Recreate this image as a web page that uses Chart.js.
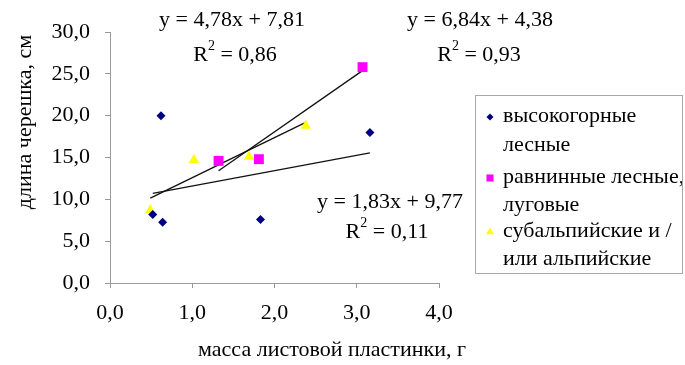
<!DOCTYPE html>
<html>
<head>
<meta charset="utf-8">
<script src="https://cdn.jsdelivr.net/npm/chart.js@4.4.1/dist/chart.umd.min.js"></script>
<style>
  html, body { margin: 0; padding: 0; background: #fff; }
</style>
</head>
<body>
<canvas id="chart" width="685" height="365"></canvas>
<script>
// series names (legend, each split into two lines like the original)
const seriesNames = [
  ['высокогорные', 'лесные'],
  ['равнинные лесные,', 'луговые'],
  ['субальпийские и /', 'или альпийские']
];

// высокогорные лесные
const highX = [0.62, 0.52, 0.64, 1.83, 3.16];
const highY = [20.0, 8.2, 7.25, 7.6, 18.0];
// равнинные лесные, луговые
const plainX = [1.32, 1.81, 3.07];
const plainY = [14.6, 14.8, 25.8];
// субальпийские и / или альпийские
const alpX = [0.49, 1.02, 1.69, 2.38];
const alpY = [8.7, 14.7, 15.1, 18.8];

// trend line ends
const highTrend = [[0.52, 10.72], [3.16, 15.55]];
const plainTrend = [[1.32, 13.41], [3.07, 25.38]];
const alpTrend = [[0.49, 10.15], [2.38, 19.19]];

const equations = ['y = 1,83x + 9,77', 'y = 6,84x + 4,38', 'y = 4,78x + 7,81'];
const rSquared = ['0,11', '0,93', '0,86'];

const yTickLabels = ['0,0', '5,0', '10,0', '15,0', '20,0', '25,0', '30,0'];
const xTickLabels = ['0,0', '1,0', '2,0', '3,0', '4,0'];
const xTitle = 'масса листовой пластинки, г';
const yTitle = 'длина черешка, см';

const serif = "'Liberation Serif', 'Times New Roman', serif";
const colors = ['#000080', '#ff00ff', '#ffff00'];
const shapes = ['rectRot', 'rect', 'triangle'];
const radii = [4.5, 7, 6];

const pts = (xs, ys) => xs.map((x, i) => ({ x: x, y: ys[i] }));
const line = arr => arr.map(p => ({ x: p[0], y: p[1] }));

function scatterSet(i, data) {
  return {
    label: seriesNames[i].join(' '),
    data: data,
    pointStyle: shapes[i],
    pointRadius: radii[i],
    pointHoverRadius: radii[i],
    backgroundColor: colors[i],
    borderColor: colors[i],
    borderWidth: 0,
    showLine: false,
    order: 1
  };
}
function trendSet(data) {
  return {
    data: data,
    showLine: true,
    borderColor: '#111',
    borderWidth: 1.3,
    pointRadius: 0,
    fill: false,
    order: 2
  };
}

function drawR2(ctx, val, cx, cy) {
  ctx.font = '22px ' + serif;
  const wR = ctx.measureText('R').width;
  const rest = ' = ' + val;
  const wRest = ctx.measureText(rest).width;
  ctx.font = '14px ' + serif;
  const w2 = ctx.measureText('2').width;
  let x = cx - (wR + w2 + wRest) / 2;
  ctx.textAlign = 'left';
  ctx.font = '22px ' + serif;
  ctx.fillText('R', x, cy);
  ctx.font = '14px ' + serif;
  ctx.fillText('2', x + wR, cy - 9);
  ctx.font = '22px ' + serif;
  ctx.fillText(rest, x + wR + w2, cy);
}

const overlay = {
  id: 'overlay',
  beforeDraw(chart) {
    const ctx = chart.ctx;
    ctx.save();
    ctx.fillStyle = '#fff';
    ctx.fillRect(0, 0, chart.width, chart.height);
    ctx.restore();
  },
  afterDraw(chart) {
    const ctx = chart.ctx;
    ctx.save();
    ctx.fillStyle = '#000';
    ctx.textBaseline = 'middle';

    // regression labels
    const eqPos = [[390, 202], [480, 20], [232, 20]];
    const r2Pos = [[387, 232], [479, 55], [235, 55]];
    equations.forEach((eq, i) => {
      ctx.font = '22px ' + serif;
      ctx.textAlign = 'center';
      ctx.fillText(eq, eqPos[i][0], eqPos[i][1]);
      drawR2(ctx, rSquared[i], r2Pos[i][0], r2Pos[i][1]);
    });

    // axis titles
    ctx.font = '22px ' + serif;
    ctx.textAlign = 'center';
    ctx.fillText(xTitle, 332, 350);
    ctx.save();
    ctx.translate(25, 122);
    ctx.rotate(-Math.PI / 2);
    ctx.fillText(yTitle, 0, 0);
    ctx.restore();

    // legend box
    const bx = 475, by = 95, bw = 207, bh = 178;
    ctx.strokeStyle = '#a8a8a8';
    ctx.lineWidth = 1;
    ctx.strokeRect(bx + 0.5, by + 0.5, bw, bh);
    ctx.save();
    ctx.beginPath();
    ctx.rect(bx, by, bw, bh);
    ctx.clip();
    const rowY = [[116, 145], [177, 205], [231, 259]];
    const mSize = [3.5, 5, 4.5];
    seriesNames.forEach((lines, i) => {
      ctx.fillStyle = colors[i];
      ctx.strokeStyle = colors[i];
      Chart.helpers.drawPoint(ctx, {
        pointStyle: shapes[i], radius: mSize[i], rotation: 0, borderWidth: 0
      }, 490, rowY[i][0] + 1);
      ctx.fillStyle = '#000';
      ctx.font = '22px ' + serif;
      ctx.textAlign = 'left';
      lines.forEach((t, j) => ctx.fillText(t, 503, rowY[i][j]));
    });
    ctx.restore();
    ctx.restore();
  }
};

new Chart(document.getElementById('chart'), {
  type: 'scatter',
  data: {
    datasets: [
      scatterSet(0, pts(highX, highY)),
      scatterSet(1, pts(plainX, plainY)),
      scatterSet(2, pts(alpX, alpY)),
      trendSet(line(highTrend)),
      trendSet(line(plainTrend)),
      trendSet(line(alpTrend))
    ]
  },
  options: {
    responsive: false,
    animation: false,
    devicePixelRatio: 1,
    layout: { padding: { left: 0, top: 32, right: 246, bottom: 0 } },
    plugins: { legend: { display: false }, tooltip: { enabled: false } },
    scales: {
      x: {
        type: 'linear',
        min: 0, max: 4,
        afterFit: s => { s.height = 82; },
        afterBuildTicks: s => { s.ticks = xTickLabels.map((_, i) => ({ value: i })); },
        ticks: {
          callback: (v, i) => xTickLabels[i],
          color: '#000',
          font: { family: serif, size: 22 },
          padding: 12,
          maxRotation: 0
        },
        grid: { drawOnChartArea: false, drawTicks: true, tickLength: 5, color: '#9a9a9a' },
        border: { color: '#9a9a9a' }
      },
      y: {
        type: 'linear',
        min: 0, max: 30,
        afterFit: s => { s.width = 110; },
        afterBuildTicks: s => { s.ticks = yTickLabels.map((_, i) => ({ value: i * 5 })); },
        ticks: {
          callback: (v, i) => yTickLabels[i],
          color: '#000',
          font: { family: serif, size: 22 },
          padding: 15
        },
        grid: { drawOnChartArea: false, drawTicks: true, tickLength: 5, color: '#9a9a9a' },
        border: { color: '#9a9a9a' }
      }
    }
  },
  plugins: [overlay]
});
</script>
</body>
</html>
